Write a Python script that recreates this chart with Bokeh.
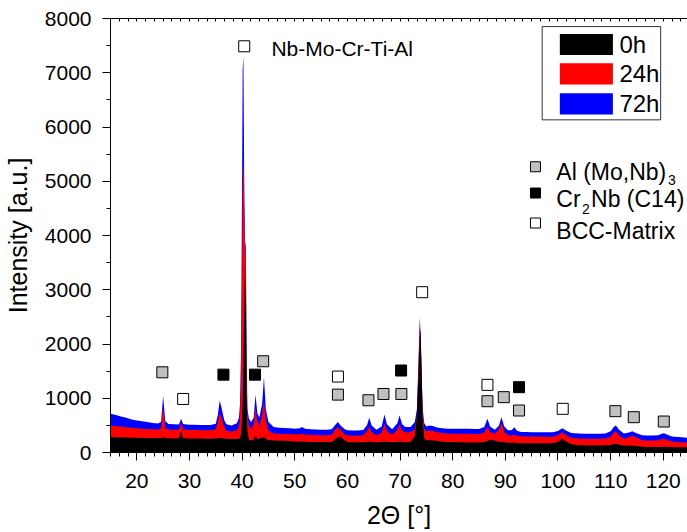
from bokeh.plotting import figure
from bokeh.models import LinearAxis, SingleIntervalTicker, FixedTicker, Range1d
from bokeh.core.properties import value
from bokeh.embed import file_html
from bokeh.resources import INLINE

# ---------------- data ----------------
two_theta = [15, 16, 17, 18, 19, 20, 21, 22, 23, 24,
             24.6, 25.0, 25.4, 26, 27, 28, 28.4, 28.8, 29.5, 30,
             31, 32, 33, 34, 35, 35.4, 35.75, 36.1, 36.6, 37,
             38, 39, 39.4, 39.6, 39.8, 40.0, 40.1, 40.25, 40.4, 40.55,
             40.7, 40.85, 41.0, 41.3, 41.7, 42.2, 42.55, 42.9, 43.3, 43.8,
             44.15, 44.5, 45.0, 46, 47, 48, 49, 50, 51, 51.3,
             52, 53, 54, 55, 56, 57, 57.8, 58.2, 58.7, 59.5,
             60, 61, 62, 63, 63.7, 64.15, 64.6, 65.5, 66.5, 67.05,
             67.5, 68.5, 69.5, 69.9, 70.4, 71, 72, 72.8, 73.2, 73.5,
             73.75, 73.9, 74.1, 74.3, 74.6, 75.0, 75.6, 76.2, 77, 78,
             79, 80, 81, 82, 83, 84, 85, 86, 86.6, 87.1,
             88, 88.8, 89.25, 89.8, 90.5, 91.2, 91.7, 92.2, 93, 94,
             95, 96, 97, 98, 99, 100, 100.8, 101.6, 102.5, 104,
             105, 106, 107, 108, 109, 110, 110.6, 111.0, 111.6, 112.5,
             113.5, 114.1, 114.8, 116, 117, 118, 119, 119.6, 120.1, 120.7,
             121.5, 122, 123, 124, 125]

i_72h = [715, 690, 665, 640, 610, 590, 575, 560, 545, 535,
         560, 1040, 580, 525, 520, 515, 620, 525, 515, 512,
         510, 508, 505, 505, 530, 700, 960, 820, 600, 520,
         500, 540, 640, 900, 1900, 5200, 7050, 7300, 5000, 3900,
         3800, 2000, 810, 620, 560, 640, 1065, 720, 650, 900,
         1385, 800, 560, 470, 455, 450, 445, 440, 445, 470,
         440, 430, 425, 420, 420, 430, 520, 560, 500, 430,
         410, 405, 405, 415, 500, 640, 500, 420, 480, 700,
         520, 430, 540, 680, 520, 470, 470, 560, 800, 1700,
         2490, 2200, 1500, 800, 540, 480, 500, 490, 460, 445,
         440, 436, 436, 440, 436, 432, 432, 470, 620, 480,
         420, 500, 650, 480, 410, 410, 465, 400, 380, 378,
         375, 375, 372, 372, 375, 395, 448, 400, 360, 348,
         346, 345, 344, 344, 350, 390, 470, 497, 420, 350,
         370, 393, 360, 318, 315, 313, 318, 340, 356, 330,
         300, 292, 285, 278, 270]

i_24h = [500, 490, 475, 465, 455, 445, 440, 435, 430, 425,
         440, 835, 450, 425, 420, 420, 555, 430, 420, 418,
         415, 412, 410, 410, 430, 560, 725, 640, 470, 400,
         385, 410, 480, 650, 1300, 3300, 4900, 5450, 4400, 3800,
         3600, 1600, 700, 500, 440, 520, 825, 560, 495, 700,
         945, 600, 405, 350, 345, 342, 340, 335, 335, 345,
         330, 325, 322, 320, 318, 325, 430, 465, 420, 330,
         315, 312, 310, 318, 390, 480, 380, 315, 365, 528,
         400, 325, 420, 515, 400, 375, 375, 430, 650, 1600,
         2310, 2100, 1400, 700, 440, 390, 400, 395, 380, 360,
         352, 345, 345, 346, 344, 342, 342, 370, 470, 380,
         345, 420, 545, 380, 320, 315, 330, 305, 298, 296,
         295, 295, 292, 290, 292, 320, 375, 320, 270, 258,
         255, 253, 252, 252, 258, 290, 370, 393, 320, 255,
         280, 313, 280, 225, 222, 220, 225, 245, 252, 230,
         210, 200, 192, 185, 180]

i_0h = [285, 280, 275, 275, 270, 270, 268, 265, 265, 262,
        265, 280, 265, 262, 260, 262, 390, 265, 260, 260,
        258, 258, 255, 255, 258, 262, 270, 265, 258, 255,
        250, 250, 255, 270, 350, 600, 900, 1600, 2600, 3450,
        2800, 1000, 400, 230, 220, 240, 310, 250, 260, 270,
        285, 250, 230, 220, 218, 215, 210, 200, 200, 205,
        198, 195, 195, 192, 192, 195, 250, 285, 290, 220,
        195, 190, 190, 190, 195, 200, 195, 190, 192, 200,
        192, 190, 195, 200, 192, 190, 195, 300, 650, 1400,
        2100, 2285, 1500, 600, 260, 220, 225, 222, 215, 200,
        195, 190, 188, 188, 186, 185, 185, 195, 210, 235,
        220, 195, 200, 190, 180, 178, 180, 175, 172, 172,
        170, 170, 170, 168, 170, 195, 252, 200, 150, 135,
        132, 130, 130, 130, 132, 140, 150, 160, 145, 128,
        125, 130, 122, 105, 102, 100, 100, 102, 105, 100,
        100, 98, 98, 96, 95]

series_names = ["0h", "24h", "72h"]
series_colors = ["#000000", "#ff0000", "#0000ff"]

# phase markers
al_mo_nb_x = [24.85, 44.0, 58.2, 64.0, 66.85, 70.25, 86.6, 89.7, 92.6, 110.9, 114.4, 120.1]
al_mo_nb_y = [1478, 1682, 1067, 963, 1079, 1079, 945, 1020, 774, 762, 651, 571]
cr2nb_x = [36.45, 42.45, 70.2, 92.6]
cr2nb_y = [1435, 1435, 1511, 1204]
bcc_x = [40.4, 28.8, 58.2, 74.2, 86.6, 100.9]
bcc_y = [7488, 987, 1400, 2955, 1247, 805]

FONT = "Liberation Sans"

p = figure(width=687, height=532, output_backend="svg", toolbar_location=None,
           x_range=Range1d(15, 124.6), y_range=Range1d(0, 8000),
           min_border_left=106, min_border_right=0, min_border_top=18,
           min_border_bottom=80, background_fill_color="white",
           border_fill_color="white")
p.outline_line_color = None
p.xgrid.visible = False
p.ygrid.visible = False

# filled patterns, back to front
p.varea(x=two_theta, y1=0, y2=i_72h, fill_color=series_colors[2])
p.varea(x=two_theta, y1=0, y2=i_24h, fill_color=series_colors[1])
p.varea(x=two_theta, y1=0, y2=i_0h, fill_color=series_colors[0])

# phase markers
p.scatter(al_mo_nb_x, al_mo_nb_y, marker="square", size=11, fill_color="#c0c0c0",
          line_color="#000000", line_width=1)
p.scatter(cr2nb_x, cr2nb_y, marker="square", size=11, fill_color="#000000",
          line_color="#000000", line_width=1)
p.scatter(bcc_x, bcc_y, marker="square", size=11, fill_color="#ffffff",
          line_color="#000000", line_width=1)

# axes styling
xa = p.xaxis[0]
xa.ticker = SingleIntervalTicker(interval=10, num_minor_ticks=6)
ya = p.yaxis[0]
ya.ticker = SingleIntervalTicker(interval=1000, num_minor_ticks=2)
for ax in (xa, ya):
    ax.major_tick_out = 8
    ax.major_tick_in = 0
    ax.minor_tick_out = 4
    ax.minor_tick_in = 0
    ax.axis_line_color = "#000000"
    ax.major_tick_line_color = "#000000"
    ax.minor_tick_line_color = "#000000"
    ax.major_label_text_font = FONT
    ax.major_label_text_font_size = "21px"
    ax.major_label_text_color = "#000000"
    ax.axis_label_text_font = FONT
    ax.axis_label_text_font_size = "25px"
    ax.axis_label_text_font_style = "normal"
    ax.axis_label_text_color = "#000000"
xa.axis_label = "2Θ [°]"
ya.axis_label = "Intensity [a.u.]"
xa.major_label_standoff = 13
xa.axis_label_standoff = 10
ya.major_label_standoff = 11
ya.axis_label_standoff = 10

# top frame line with small inward ticks (no labels)
top_minor = [15 + k * 10 / 6 for k in range(0, 67)]
top = LinearAxis(ticker=FixedTicker(ticks=[], minor_ticks=top_minor))
top.major_tick_out = 0
top.major_tick_in = 0
top.minor_tick_out = 0
top.minor_tick_in = 3
top.axis_line_color = "#000000"
top.minor_tick_line_color = "#000000"
p.add_layout(top, "above")

# title text
p.text(x=[45.57], y=[7440], text=["Nb-Mo-Cr-Ti-Al"], text_font=value(FONT),
       text_font_size="21px", text_baseline="alphabetic", text_align="left",
       text_color="#000000")

# legend box for the series
p.quad(left=[97.0], right=[119.5], bottom=[6132], top=[7851], fill_color="#ffffff",
       line_color="#333333", line_width=1)
sw_top = [7716, 7175, 6622]
sw_bot = [7329, 6782, 6229]
lab_y = [7523, 6979, 6426]
p.quad(left=[100.35] * 3, right=[110.43] * 3, top=sw_top, bottom=sw_bot,
       fill_color=series_colors, line_color=None)
p.text(x=[111.66] * 3, y=lab_y, text=series_names, text_font=value(FONT),
       text_font_size="24px", text_baseline="middle", text_align="left",
       text_color="#000000")

# phase legend
p.scatter([95.72] * 3, [5267, 4783, 4230], marker="square", size=10,
          fill_color=["#c0c0c0", "#000000", "#ffffff"], line_color="#000000",
          line_width=1)
p.text(x=[99.68, 99.68, 106.28, 99.68], y=[5167, 4676, 4676, 4079],
       text=["Al (Mo,Nb)", "Cr", "Nb (C14)", "BCC-Matrix"], text_font=value(FONT),
       text_font_size="23px", text_baseline="alphabetic", text_align="left",
       text_color="#000000")
p.text(x=[120.9, 104.58], y=[5027, 4492], text=["3", "2"], text_font=value(FONT),
       text_font_size="14px", text_baseline="alphabetic", text_align="left",
       text_color="#000000")

open("out.html", "w").write(file_html(p, INLINE))
